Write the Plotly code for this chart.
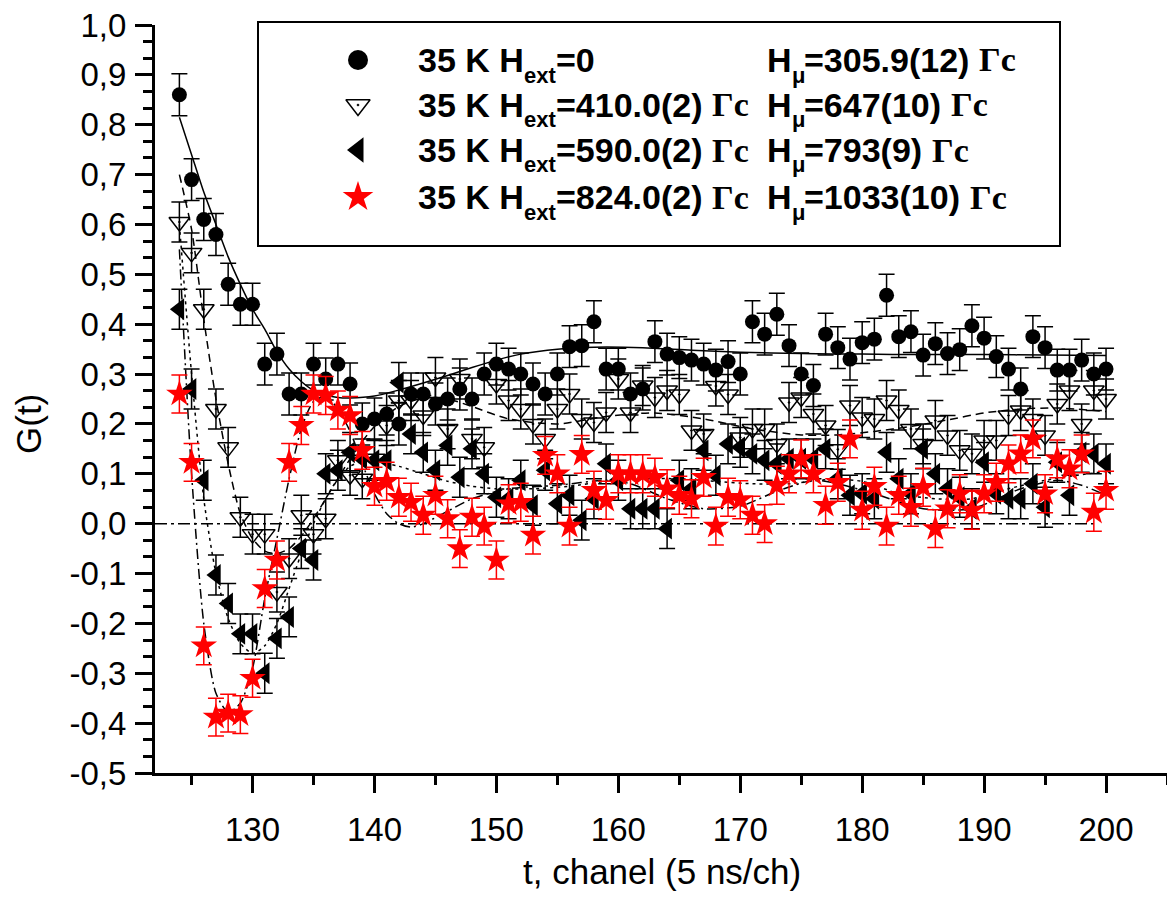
import plotly.graph_objects as go

# ---------------- data ----------------
channels = list(range(124, 201))

g_circle = [0.86, 0.69, 0.61, 0.58, 0.48, 0.44, 0.44, 0.32, 0.34, 0.26, 0.26, 0.32, 0.29, 0.32, 0.28,
            0.20, 0.21, 0.22, 0.20, 0.26, 0.26, 0.24, 0.25, 0.27, 0.25, 0.30, 0.32, 0.31, 0.30, 0.28,
            0.26, 0.30, 0.355, 0.357, 0.405, 0.31, 0.31, 0.26, 0.27, 0.365, 0.34, 0.333, 0.328, 0.32,
            0.308, 0.325, 0.30, 0.405, 0.38, 0.42, 0.357, 0.30, 0.277, 0.38, 0.353, 0.33, 0.363, 0.37,
            0.458, 0.375, 0.385, 0.338, 0.361, 0.341, 0.349, 0.397, 0.372, 0.335, 0.31, 0.27, 0.375,
            0.353, 0.308, 0.308, 0.328, 0.30, 0.31]

g_open_tri = [0.605, 0.543, 0.43, 0.23, 0.153, 0.013, -0.021, -0.021, -0.137, -0.07, 0.017, -0.021, 0.01,
              0.127, 0.097, 0.09, 0.13, 0.197, 0.247, 0.247, 0.217, 0.293, 0.19, 0.29, 0.17, 0.153, 0.28,
              0.247, 0.23, 0.20, 0.17, 0.23, 0.26, 0.21, 0.203, 0.223, 0.29, 0.223, 0.277, 0.253, 0.267,
              0.259, 0.187, 0.18, 0.276, 0.259, 0.173, 0.19, 0.19, 0.16, 0.243, 0.253, 0.22, 0.197, 0.149,
              0.237, 0.213, 0.21, 0.247, 0.228, 0.19, 0.16, 0.207, 0.177, 0.147, 0.14, 0.167, 0.167, 0.217,
              0.227, 0.21, 0.177, 0.24, 0.267, 0.20, 0.267, 0.25]

g_fill_tri = [0.43, 0.27, 0.087, -0.103, -0.16, -0.221, -0.221, -0.30, -0.23, -0.187, -0.05, -0.073, 0.10,
              0.107, 0.143, 0.13, 0.127, 0.127, 0.283, 0.18, 0.143, 0.107, 0.157, 0.093, 0.15, 0.10, 0.053,
              0.05, 0.087, 0.037, 0.107, 0.04, 0.057, 0.007, 0.05, 0.12, 0.087, 0.03, 0.03, 0.03, -0.01,
              0.087, 0.07, 0.147, 0.097, 0.16, 0.153, 0.14, 0.127, 0.12, 0.13, 0.13, 0.13, 0.15, 0.09, 0.057,
              0.06, 0.05, 0.143, 0.09, 0.06, 0.15, 0.10, 0.07, 0.053, 0.03, 0.123, 0.06, 0.05, 0.05, 0.08,
              0.033, 0.123, 0.057, 0.143, 0.14, 0.12]

g_star = [0.26, 0.123, -0.245, -0.388, -0.38, -0.383, -0.31, -0.13, -0.073, 0.123, 0.197, 0.26, 0.257,
          0.228, 0.217, 0.147, 0.075, 0.085, 0.053, 0.043, 0.017, 0.057, 0.01, -0.05, 0.013, -0.005, -0.073,
          0.04, 0.043, -0.023, 0.137, 0.10, -0.005, 0.139, 0.067, 0.047, 0.10, 0.10, 0.10, 0.093, 0.07,
          0.057, 0.05, 0.093, -0.005, 0.053, 0.048, 0.017, 0.0, 0.077, 0.10, 0.13, 0.10, 0.037, 0.083, 0.17,
          0.027, 0.075, -0.005, 0.057, 0.033, 0.073, -0.01, 0.03, 0.06, 0.027, 0.06, 0.083, 0.12, 0.14,
          0.17, 0.06, 0.13, 0.11, 0.14, 0.023, 0.067]

err_circle = 0.042
err_open_tri = 0.04
err_fill_tri = 0.04
err_star = 0.038

# fitted curves
fit_circle_x = [124, 125, 126, 127, 128, 129, 130, 131, 132, 133, 134, 135, 136, 137, 138, 140, 142, 144, 146,
                148, 150, 152, 155, 158, 162, 166, 170, 175, 180, 185, 190, 195, 200]
fit_circle_y = [0.815, 0.74, 0.665, 0.60, 0.535, 0.48, 0.43, 0.39, 0.345, 0.31, 0.285, 0.267, 0.258, 0.253,
                0.252, 0.256, 0.268, 0.282, 0.297, 0.313, 0.328, 0.34, 0.35, 0.354, 0.353, 0.348, 0.344,
                0.341, 0.34, 0.339, 0.339, 0.338, 0.337]

fit_open_x = [124, 125, 126, 127, 128, 129, 130, 131, 132, 133, 134, 135, 136, 137, 138, 139, 140, 142, 144,
              146, 148, 151, 155, 159, 163, 167, 171, 175, 178, 181, 184, 187, 190, 193, 196, 200]
fit_open_y = [0.70, 0.59, 0.41, 0.25, 0.12, 0.02, -0.03, -0.055, -0.06, -0.05, -0.025, 0.01, 0.05, 0.09,
              0.13, 0.165, 0.195, 0.235, 0.252, 0.25, 0.235, 0.21, 0.20, 0.215, 0.222, 0.21, 0.19, 0.178,
              0.178, 0.185, 0.195, 0.208, 0.222, 0.23, 0.232, 0.225]

fit_fill_x = [124, 125, 126, 127, 128, 129, 130, 131, 132, 133, 134, 135, 136, 137, 138, 139, 140, 142, 144,
              146, 148, 150, 153, 156, 159, 162, 165, 168, 171, 174, 177, 180, 183, 186, 189, 192, 195, 200]
fit_fill_y = [0.60, 0.30, 0.05, -0.10, -0.19, -0.24, -0.26, -0.245, -0.20, -0.13, -0.06, 0.0, 0.05, 0.09,
              0.115, 0.125, 0.125, 0.115, 0.10, 0.085, 0.075, 0.07, 0.07, 0.075, 0.085, 0.09, 0.09, 0.085,
              0.08, 0.08, 0.088, 0.085, 0.06, 0.05, 0.05, 0.07, 0.087, 0.105]

fit_star_x = [124, 125, 126, 127, 128, 129, 130, 131, 132, 133, 134, 135, 136, 137, 138, 139, 140, 141, 142,
              143, 144, 146, 148, 151, 155, 159, 161, 164, 167, 170, 173, 176, 178, 181, 185, 189, 193, 196,
              198, 200]
fit_star_y = [0.55, 0.10, -0.20, -0.34, -0.378, -0.36, -0.29, -0.15, -0.03, 0.09, 0.19, 0.245, 0.255, 0.23,
              0.185, 0.12, 0.06, 0.02, 0.0, -0.007, 0.0, 0.025, 0.05, 0.07, 0.077, 0.087, 0.08, 0.05, 0.03,
              0.035, 0.065, 0.087, 0.08, 0.06, 0.03, 0.03, 0.07, 0.087, 0.077, 0.057]

zero_x = [122, 199]
zero_y = [0, 0]

x_tickvals = [130, 140, 150, 160, 170, 180, 190, 200]
x_ticktext = ["130", "140", "150", "160", "170", "180", "190", "200"]
y_tickvals = [-0.5, -0.4, -0.3, -0.2, -0.1, 0.0, 0.1, 0.2, 0.3, 0.4, 0.5, 0.6, 0.7, 0.8, 0.9, 1.0]
y_ticktext = ["-0,5", "-0,4", "-0,3", "-0,2", "-0,1", "0,0", "0,1", "0,2", "0,3", "0,4", "0,5", "0,6",
              "0,7", "0,8", "0,9", "1,0"]

# legend texts
legend_prefix = "35 K H"
legend_ext_sub = "ext"
legend_mu_sub = "μ"
legend_ext_vals = ["=0", "=410.0(2)", "=590.0(2)", "=824.0(2)"]
legend_ext_unit = ["", "Гс", "Гс", "Гс"]
legend_mu_vals = ["=305.9(12)", "=647(10)", "=793(9)", "=1033(10)"]
legend_unit = "Гс"

# ---------------- figure ----------------
W, H = 1167, 897
ML, MR, MT, MB = 155, 0, 25, 124
PW, PH = W - ML - MR, H - MT - MB
XR = [122, 205]
YR = [-0.5, 1.0]


def px2paper_x(px):
    return (px - ML) / PW


def px2paper_y(py):
    return (H - MB - py) / PH


RED = "#ff0000"
SANS = "Liberation Sans, Arial"
SERIF = "Liberation Serif, Times New Roman"
fig = go.Figure()

# zero line
fig.add_trace(go.Scatter(x=zero_x, y=zero_y, mode="lines",
                         line=dict(color="black", width=1.5, dash="12px,4px,3px,4px"),
                         hoverinfo="skip", showlegend=False))
# fit curves
for fx, fy, dash in [(fit_circle_x, fit_circle_y, "solid"),
                     (fit_open_x, fit_open_y, "8px,5px"),
                     (fit_fill_x, fit_fill_y, "3px,4px"),
                     (fit_star_x, fit_star_y, "10px,4px,2px,4px")]:
    fig.add_trace(go.Scatter(x=fx, y=fy, mode="lines",
                             line=dict(color="black", width=1.5, dash=dash, shape="spline", smoothing=0.7),
                             hoverinfo="skip", showlegend=False))

series = [
    (g_circle, err_circle, dict(symbol="circle", size=15, color="black"), "black"),
    (g_open_tri, err_open_tri, dict(symbol="triangle-down-open-dot", size=18, color="black",
                                    line=dict(width=1.5, color="black")), "black"),
    (g_fill_tri, err_fill_tri, dict(symbol="triangle-left", size=19, color="black"), "black"),
    (g_star, err_star, dict(symbol="star", size=20, color=RED, line=dict(width=0)), RED),
]
for ys, err, mk, ecol in series:
    fig.add_trace(go.Scatter(
        x=channels, y=ys, mode="markers", marker=mk, showlegend=False,
        error_y=dict(type="constant", value=err, color=ecol, thickness=1.5, width=8),
        cliponaxis=False))

# legend box
fig.add_shape(type="rect", xref="paper", yref="paper",
              x0=px2paper_x(258), x1=px2paper_x(1060), y0=px2paper_y(246), y1=px2paper_y(22),
              line=dict(color="black", width=2), fillcolor="white", layer="below")

row_py = [60, 105, 150, 197]
leg_syms = [dict(symbol="circle", size=20, color="black"),
            dict(symbol="triangle-down-open-dot", size=21, color="black", line=dict(width=1.5, color="black")),
            dict(symbol="triangle-left", size=22, color="black"),
            dict(symbol="star", size=23, color=RED, line=dict(width=0))]
for py, mk in zip(row_py, leg_syms):
    fig.add_trace(go.Scatter(x=[px2paper_x(358)], y=[px2paper_y(py)], mode="markers", marker=mk,
                             xaxis="x2", yaxis="y2", showlegend=False, hoverinfo="skip", cliponaxis=False))

# Arial Bold advance widths (em) used to chain the legend text pieces
AW = {"3": .556, "5": .556, " ": .278, "K": .722, "H": .722, "=": .584, "0": .556, "1": .556,
      "2": .556, "4": .556, "6": .556, "7": .556, "8": .556, "9": .556, ".": .278, "(": .333,
      ")": .333, "e": .556, "x": .556, "t": .333, "μ": .576}


def tw(s, size):
    return sum(AW.get(c, .556) for c in s) * size


S, SS = 34, 22           # main / subscript font size
SUB_DY = 15              # subscript drop (px)
HCOL = 765               # x where the H_mu column starts
TXT0 = 416


def put(px, py, text, size, family=SANS):
    fig.add_annotation(xref="paper", yref="paper", x=px2paper_x(px), y=px2paper_y(py), text=text,
                       showarrow=False, xanchor="left", yanchor="middle",
                       font=dict(family=family, size=size, color="black", weight="bold"))


for i, py in enumerate(row_py):
    x = TXT0
    put(x, py, legend_prefix, S)
    x += tw(legend_prefix, S)
    put(x, py + SUB_DY, legend_ext_sub, SS)
    x += tw(legend_ext_sub, SS)
    put(x, py, legend_ext_vals[i], S)
    x += tw(legend_ext_vals[i], S) + tw(" ", S)
    if legend_ext_unit[i]:
        put(x, py, legend_ext_unit[i], S, SERIF)
    x = HCOL
    put(x, py, "H", S)
    x += tw("H", S)
    put(x, py + SUB_DY, legend_mu_sub, SS)
    x += tw(legend_mu_sub, SS)
    put(x, py, legend_mu_vals[i], S)
    x += tw(legend_mu_vals[i], S) + tw(" ", S)
    put(x, py, legend_unit, S, SERIF)

# axis titles
TITLEFONT = dict(family=SANS, size=35, color="black")
fig.add_annotation(xref="paper", yref="paper", x=px2paper_x(662), y=px2paper_y(871),
                   text="t, chanel (5 ns/ch)", showarrow=False, xanchor="center", yanchor="middle",
                   font=TITLEFONT)
fig.add_annotation(xref="paper", yref="paper", x=px2paper_x(28), y=px2paper_y(424),
                   text="G(t)", showarrow=False, xanchor="center", yanchor="middle", textangle=-90,
                   font=TITLEFONT)

TICKFONT = dict(family=SANS, size=33, color="black")
fig.update_layout(
    width=W, height=H, margin=dict(l=ML, r=MR, t=MT, b=MB, autoexpand=False),
    paper_bgcolor="white", plot_bgcolor="white", showlegend=False,
    xaxis=dict(range=XR, showline=True, linewidth=3, linecolor="black", mirror=False,
               ticks="outside", ticklen=17, tickwidth=3, tickcolor="black",
               tickvals=x_tickvals, ticktext=x_ticktext, tickfont=TICKFONT, ticklabelstandoff=8,
               minor=dict(dtick=5, tick0=0, ticks="outside", ticklen=9, tickwidth=3, tickcolor="black"),
               showgrid=False, zeroline=False),
    yaxis=dict(range=YR, showline=True, linewidth=3, linecolor="black", mirror=False,
               ticks="outside", ticklen=17, tickwidth=3, tickcolor="black",
               tickvals=y_tickvals, ticktext=y_ticktext, tickfont=TICKFONT, ticklabelstandoff=2,
               minor=dict(dtick=0.1 / 3, tick0=0, ticks="outside", ticklen=9, tickwidth=3, tickcolor="black"),
               showgrid=False, zeroline=False),
    xaxis2=dict(range=[0, 1], overlaying="x", visible=False, anchor="y2"),
    yaxis2=dict(range=[0, 1], overlaying="y", visible=False, anchor="x2"),
)

fig.write_html("out.html")
